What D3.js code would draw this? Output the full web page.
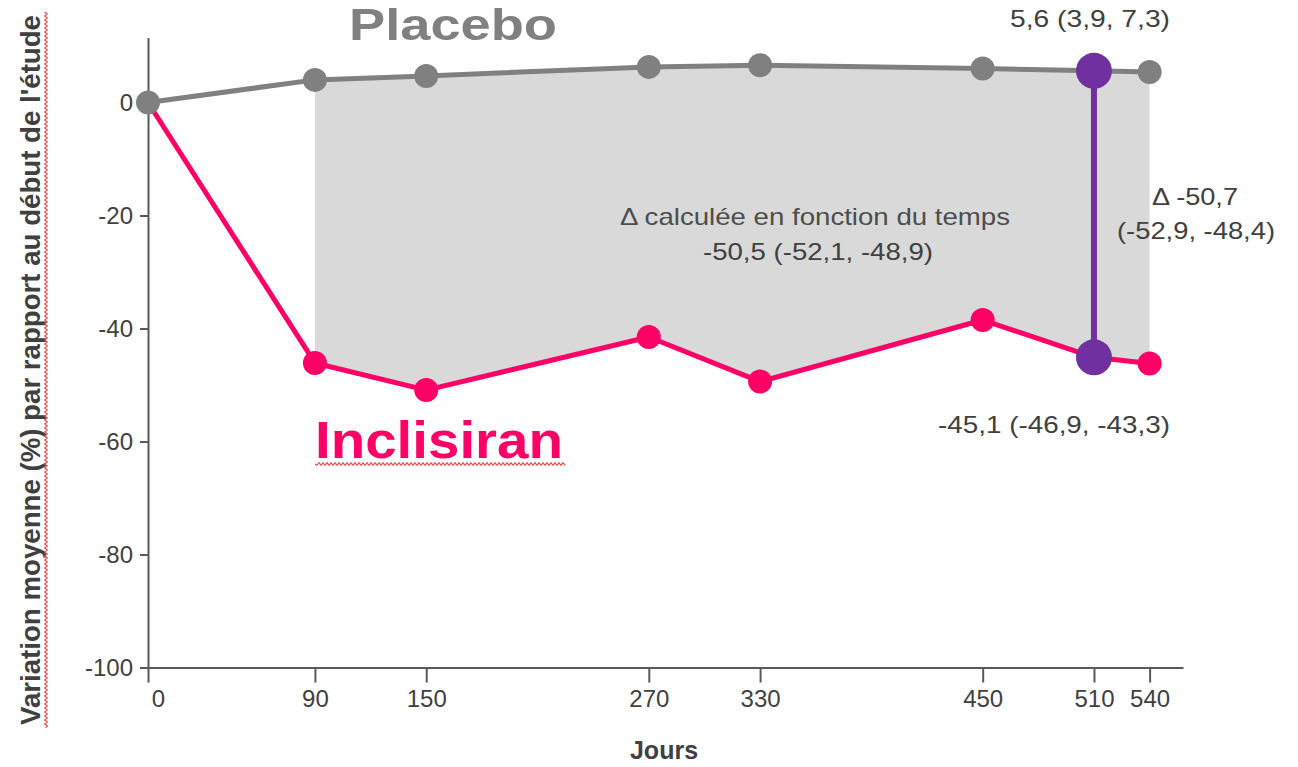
<!DOCTYPE html>
<html>
<head>
<meta charset="utf-8">
<script src="https://cdn.jsdelivr.net/npm/d3@7"></script>
<style>
  body { margin: 0; background: #fff; }
  text { font-family: "Liberation Sans", Arial, sans-serif; }
</style>
</head>
<body>
<svg id="chart" width="1298" height="767"></svg>
<script>
// Days of follow-up and mean % change from baseline for each arm
const days = [0, 90, 150, 270, 330, 450, 510, 540];
const placebo = [0, 4.0, 4.7, 6.3, 6.6, 6.0, 5.6, 5.4];
const inclisiran = [0, -46.1, -50.9, -41.5, -49.4, -38.5, -45.1, -46.2];
const yTicks = [0, -20, -40, -60, -80, -100];

// Time-averaged difference is shaded between these days
const shadeStart = 90;
const shadeEnd = 540;
// Day at which the point difference is highlighted
const focusDay = 510;

const labelPlacebo = "Placebo";
const labelInclisiran = "Inclisiran";
const notePlaceboFocus = "5,6 (3,9, 7,3)";
const noteInclisiranFocus = "-45,1 (-46,9, -43,3)";
const noteAvgTitle = "\u0394 calculée en fonction du temps";
const noteAvgValue = "-50,5 (-52,1, -48,9)";
const noteDeltaTitle = "\u0394 -50,7";
const noteDeltaCI = "(-52,9, -48,4)";
const yTitle = "Variation moyenne (%) par rapport au début de l'étude";
const xTitle = "Jours";

const rows = days.map((d, i) => ({ day: d, p: placebo[i], inc: inclisiran[i] }));

const svg = d3.select("#chart");

const x = d3.scaleLinear().domain([0, 558]).range([148, 1183]);
const y = d3.scaleLinear().domain([-100, 11.5]).range([667.5, 37.5]);

const GREY = "#808080", PINK = "#ff0066", PURPLE = "#7030a0", SHADE = "#d9d9d9";
const AXIS = "#595959", TXT = "#404040";

// plain hyphen for negatives, as in the French labels
const fmt = v => String(v);

// shaded band between arms
const band = rows.filter(r => r.day >= shadeStart && r.day <= shadeEnd);
svg.append("path")
  .datum(band)
  .attr("fill", SHADE)
  .attr("d", d3.area().x(r => x(r.day)).y0(r => y(r.inc)).y1(r => y(r.p)));

// axes
const yAxis = svg.append("g")
  .attr("transform", `translate(${x(0)},0)`)
  .call(d3.axisLeft(y).tickValues(yTicks).tickFormat(fmt)
    .tickSize(8).tickSizeOuter(0).tickPadding(7));
const xAxis = svg.append("g")
  .attr("transform", `translate(0,${y(-100)})`)
  .call(d3.axisBottom(x).tickValues(days).tickFormat(fmt)
    .tickSize(15).tickSizeOuter(0).tickPadding(7));
[yAxis, xAxis].forEach(g => {
  g.selectAll("path, line").attr("stroke", AXIS).attr("stroke-width", 2);
  g.selectAll("text").attr("fill", TXT).style("font-size", "24px");
});
// keep the day-0 label clear of the vertical axis
xAxis.selectAll(".tick text").filter(d => d === 0).attr("dx", 10);

// lines
const line = key => d3.line().x(r => x(r.day)).y(r => y(r[key]));
svg.append("path").datum(rows).attr("fill", "none").attr("stroke", PINK)
  .attr("stroke-width", 5).attr("stroke-linejoin", "round").attr("d", line("inc"));
svg.append("path").datum(rows).attr("fill", "none").attr("stroke", GREY)
  .attr("stroke-width", 5).attr("stroke-linejoin", "round").attr("d", line("p"));

// markers
svg.append("g").selectAll("circle").data(rows.filter(r => r.day > 0)).join("circle")
  .attr("cx", r => x(r.day)).attr("cy", r => y(r.inc)).attr("r", 12).attr("fill", PINK);
svg.append("g").selectAll("circle").data(rows).join("circle")
  .attr("cx", r => x(r.day)).attr("cy", r => y(r.p)).attr("r", 12).attr("fill", GREY);

// highlighted difference at the focus day
const focus = rows.find(r => r.day === focusDay);
svg.append("line")
  .attr("x1", x(focus.day)).attr("x2", x(focus.day))
  .attr("y1", y(focus.p)).attr("y2", y(focus.inc))
  .attr("stroke", PURPLE).attr("stroke-width", 6);
svg.append("g").selectAll("circle").data([focus.p, focus.inc]).join("circle")
  .attr("cx", x(focus.day)).attr("cy", v => y(v)).attr("r", 18).attr("fill", PURPLE);

// text helper
function label(str, cx, by, opts = {}) {
  const t = svg.append("text")
    .attr("x", cx).attr("y", by)
    .attr("text-anchor", opts.anchor || "middle")
    .attr("fill", opts.color || TXT)
    .style("font-size", (opts.size || 24) + "px")
    .style("font-weight", opts.bold ? "bold" : "normal")
    .text(str);
  if (opts.width) t.attr("textLength", opts.width).attr("lengthAdjust", "spacingAndGlyphs");
  if (opts.rotate) t.attr("transform", `rotate(${opts.rotate},${cx},${by})`);
  return t;
}

// spell-check style wavy underline
function squiggle(x0, y0, len, vertical) {
  let d = `M${x0},${y0}`;
  for (let s = 0, i = 0; s < len; s += 2, i++) {
    const off = (i % 2 ? -1.3 : 1.3);
    d += vertical ? `L${x0 + off},${y0 - s - 2}` : `L${x0 + s + 2},${y0 + off}`;
  }
  svg.append("path").attr("d", d).attr("fill", "none")
    .attr("stroke", "#f04848").attr("stroke-width", 1.2);
}

// series names
label(labelPlacebo, 453, 40, { size: 44, bold: true, color: GREY, width: 208 });
label(labelInclisiran, 315, 458, { size: 52, bold: true, color: PINK, width: 248, anchor: "start" });
squiggle(315, 464, 250, false);

// annotations
label(notePlaceboFocus, 1090, 27, { width: 160 });
label(noteAvgTitle, 815, 225, { width: 390, color: "#4d4d4d" });
label(noteAvgValue, 818, 260, { width: 230 });
label(noteDeltaTitle, 1195, 205, { width: 86 });
label(noteDeltaCI, 1196, 239, { width: 158 });
label(noteInclisiranFocus, 1054, 433, { width: 232 });

// axis titles
label(yTitle, 40, 370, { size: 27, bold: true, width: 710, rotate: -90 });
squiggle(46, 728, 716, true);
label(xTitle, 664, 759, { size: 25, bold: true });
</script>
</body>
</html>
